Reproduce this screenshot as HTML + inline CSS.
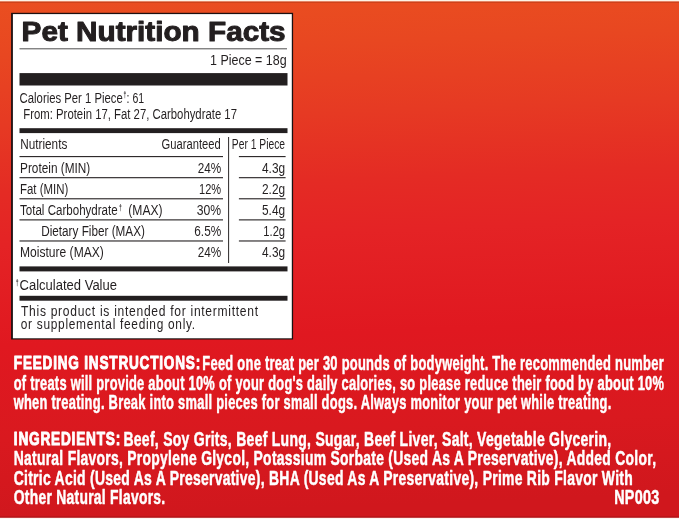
<!DOCTYPE html>
<html lang="en"><head><meta charset="utf-8"><title>Pet Nutrition Facts</title>
<style>
html,body{margin:0;padding:0;background:#d81b21;}
body{width:679px;height:519px;overflow:hidden;}
svg{display:block;font-family:"Liberation Sans", Arial, Helvetica, sans-serif;}
</style></head><body>
<svg width="679" height="519" viewBox="0 0 679 519">
<defs>
<linearGradient id="bg" gradientUnits="userSpaceOnUse" x1="0" y1="-8" x2="20" y2="519">
<stop offset="0" stop-color="#ea5020"/>
<stop offset="0.12" stop-color="#e84721"/>
<stop offset="0.25" stop-color="#e63a23"/>
<stop offset="0.38" stop-color="#e42b24"/>
<stop offset="0.48" stop-color="#e42325"/>
<stop offset="0.67" stop-color="#e01820"/>
<stop offset="0.85" stop-color="#d9191f"/>
<stop offset="1" stop-color="#d0171d"/>
</linearGradient>
</defs>
<rect width="679" height="519" fill="url(#bg)"/>
<rect x="0" y="0" width="679" height="1.6" fill="#fdf3e6"/>
<rect x="0" y="1.6" width="679" height="1.2" fill="#c8401a"/>
<rect x="0" y="516.4" width="679" height="1.5" fill="#b01318"/>
<rect x="0" y="517.8" width="679" height="1.2" fill="#fff4f2"/>
<rect x="11.1" y="12.8" width="282" height="326.7" fill="#1c1011"/>
<rect x="12.9" y="14.1" width="278.9" height="324.2" fill="#fff"/>
<text x="21.6" y="40.9" font-size="27.0" font-weight="bold" text-anchor="start" fill="#231f20" textLength="264.0" lengthAdjust="spacingAndGlyphs" stroke="#231f20" stroke-width="1.0" stroke-linejoin="round">Pet Nutrition Facts</text>
<rect x="19.5" y="48.1" width="267.5" height="1.3" fill="#777"/>
<text x="210" y="64.7" font-size="15.3" font-weight="normal" text-anchor="start" fill="#231f20" textLength="76.6" lengthAdjust="spacingAndGlyphs">1 Piece = 18g</text>
<rect x="19.5" y="73.1" width="268" height="12.4" fill="#231f20"/>
<text x="19.6" y="102.8" font-size="15.3" font-weight="normal" text-anchor="start" fill="#231f20" textLength="103.2" lengthAdjust="spacingAndGlyphs">Calories Per 1 Piece</text>
<text x="123.5" y="98.0" font-size="8.6" font-weight="bold" text-anchor="start" fill="#231f20" textLength="2.8" lengthAdjust="spacingAndGlyphs">†</text>
<text x="126.6" y="102.8" font-size="15.3" font-weight="normal" text-anchor="start" fill="#231f20" textLength="17.6" lengthAdjust="spacingAndGlyphs">: 61</text>
<text x="23.3" y="119.1" font-size="15.3" font-weight="normal" text-anchor="start" fill="#231f20" textLength="213.7" lengthAdjust="spacingAndGlyphs">From: Protein 17, Fat 27, Carbohydrate 17</text>
<rect x="19.5" y="128.2" width="268" height="4.9" fill="#231f20"/>
<text x="20.3" y="148.8" font-size="15.3" font-weight="normal" text-anchor="start" fill="#231f20" textLength="47" lengthAdjust="spacingAndGlyphs">Nutrients</text>
<text x="161.6" y="148.8" font-size="15.3" font-weight="normal" text-anchor="start" fill="#231f20" textLength="59.2" lengthAdjust="spacingAndGlyphs">Guaranteed</text>
<text x="231.8" y="148.8" font-size="15.3" font-weight="normal" text-anchor="start" fill="#231f20" textLength="53.3" lengthAdjust="spacingAndGlyphs">Per 1 Piece</text>
<rect x="228.1" y="137" width="1" height="126" fill="#2a2627"/>
<rect x="19.5" y="156.0" width="203.5" height="1.15" fill="#2e2a2b"/>
<rect x="238.9" y="156.0" width="46.7" height="1.15" fill="#2e2a2b"/>
<text x="20" y="172.7" font-size="15.3" font-weight="normal" text-anchor="start" fill="#231f20" textLength="70.3" lengthAdjust="spacingAndGlyphs">Protein (MIN)</text>
<text x="197.7" y="172.7" font-size="15.3" font-weight="normal" text-anchor="start" fill="#231f20" textLength="23.5" lengthAdjust="spacingAndGlyphs">24%</text>
<text x="262.0" y="172.7" font-size="15.3" font-weight="normal" text-anchor="start" fill="#231f20" textLength="23.1" lengthAdjust="spacingAndGlyphs">4.3g</text>
<rect x="19.5" y="177.1" width="203.5" height="1.15" fill="#2e2a2b"/>
<rect x="238.9" y="177.1" width="46.7" height="1.15" fill="#2e2a2b"/>
<text x="20" y="193.79999999999998" font-size="15.3" font-weight="normal" text-anchor="start" fill="#231f20" textLength="48.2" lengthAdjust="spacingAndGlyphs">Fat (MIN)</text>
<text x="199.1" y="193.79999999999998" font-size="15.3" font-weight="normal" text-anchor="start" fill="#231f20" textLength="22.1" lengthAdjust="spacingAndGlyphs">12%</text>
<text x="262.0" y="193.79999999999998" font-size="15.3" font-weight="normal" text-anchor="start" fill="#231f20" textLength="23.1" lengthAdjust="spacingAndGlyphs">2.2g</text>
<rect x="19.5" y="198.20000000000002" width="203.5" height="1.15" fill="#2e2a2b"/>
<rect x="238.9" y="198.20000000000002" width="46.7" height="1.15" fill="#2e2a2b"/>
<text x="20" y="214.9" font-size="15.3" font-weight="normal" text-anchor="start" fill="#231f20" textLength="97.7" lengthAdjust="spacingAndGlyphs">Total Carbohydrate</text>
<text x="196.79999999999998" y="214.9" font-size="15.3" font-weight="normal" text-anchor="start" fill="#231f20" textLength="24.4" lengthAdjust="spacingAndGlyphs">30%</text>
<text x="262.0" y="214.9" font-size="15.3" font-weight="normal" text-anchor="start" fill="#231f20" textLength="23.1" lengthAdjust="spacingAndGlyphs">5.4g</text>
<text x="119.0" y="211.1" font-size="8.6" font-weight="bold" text-anchor="start" fill="#231f20" textLength="2.8" lengthAdjust="spacingAndGlyphs">†</text>
<text x="128.3" y="214.9" font-size="15.3" font-weight="normal" text-anchor="start" fill="#231f20" textLength="34.3" lengthAdjust="spacingAndGlyphs">(MAX)</text>
<rect x="19.5" y="219.3" width="203.5" height="1.15" fill="#2e2a2b"/>
<rect x="238.9" y="219.3" width="46.7" height="1.15" fill="#2e2a2b"/>
<text x="41.2" y="236.0" font-size="15.3" font-weight="normal" text-anchor="start" fill="#231f20" textLength="103.7" lengthAdjust="spacingAndGlyphs">Dietary Fiber (MAX)</text>
<text x="194.29999999999998" y="236.0" font-size="15.3" font-weight="normal" text-anchor="start" fill="#231f20" textLength="26.9" lengthAdjust="spacingAndGlyphs">6.5%</text>
<text x="263.3" y="236.0" font-size="15.3" font-weight="normal" text-anchor="start" fill="#231f20" textLength="21.8" lengthAdjust="spacingAndGlyphs">1.2g</text>
<rect x="19.5" y="240.4" width="203.5" height="1.15" fill="#2e2a2b"/>
<rect x="238.9" y="240.4" width="46.7" height="1.15" fill="#2e2a2b"/>
<text x="20" y="257.1" font-size="15.3" font-weight="normal" text-anchor="start" fill="#231f20" textLength="83.8" lengthAdjust="spacingAndGlyphs">Moisture (MAX)</text>
<text x="197.7" y="257.1" font-size="15.3" font-weight="normal" text-anchor="start" fill="#231f20" textLength="23.5" lengthAdjust="spacingAndGlyphs">24%</text>
<text x="262.0" y="257.1" font-size="15.3" font-weight="normal" text-anchor="start" fill="#231f20" textLength="23.1" lengthAdjust="spacingAndGlyphs">4.3g</text>
<rect x="19.5" y="266.4" width="268" height="5.0" fill="#231f20"/>
<text x="15.8" y="286.0" font-size="8.6" font-weight="bold" text-anchor="start" fill="#231f20" textLength="2.8" lengthAdjust="spacingAndGlyphs">†</text>
<text x="19.6" y="289.9" font-size="15.3" font-weight="normal" text-anchor="start" fill="#231f20" textLength="97.4" lengthAdjust="spacingAndGlyphs">Calculated Value</text>
<rect x="19.5" y="295.8" width="268" height="4.9" fill="#231f20"/>
<text x="21" y="316.1" font-size="15.3" font-weight="normal" text-anchor="start" fill="#231f20" textLength="237.7" lengthAdjust="spacingAndGlyphs" letter-spacing="0.9">This product is intended for intermittent</text>
<text x="20.8" y="328.6" font-size="15.3" font-weight="normal" text-anchor="start" fill="#231f20" textLength="175" lengthAdjust="spacingAndGlyphs" letter-spacing="0.9">or supplemental feeding only.</text>
<text x="13.8" y="369.3" font-size="18.8" font-weight="bold" text-anchor="start" fill="#fff" textLength="187.2" lengthAdjust="spacingAndGlyphs" stroke="#fff" stroke-width="1.0" stroke-linejoin="round" letter-spacing="1.1">FEEDING INSTRUCTIONS:</text>
<text x="202.3" y="370.4" font-size="19.8" font-weight="bold" text-anchor="start" fill="#fff" textLength="461.7" lengthAdjust="spacingAndGlyphs" stroke="#fff" stroke-width="0.5" stroke-linejoin="round" letter-spacing="0.4">Feed one treat per 30 pounds of bodyweight. The recommended number</text>
<text x="13.7" y="389.7" font-size="19.8" font-weight="bold" text-anchor="start" fill="#fff" textLength="650.5" lengthAdjust="spacingAndGlyphs" stroke="#fff" stroke-width="0.5" stroke-linejoin="round" letter-spacing="0.4">of treats will provide about 10% of your dog's daily calories, so please reduce their food by about 10%</text>
<text x="13.7" y="409.1" font-size="19.8" font-weight="bold" text-anchor="start" fill="#fff" textLength="597.8" lengthAdjust="spacingAndGlyphs" stroke="#fff" stroke-width="0.5" stroke-linejoin="round" letter-spacing="0.4">when treating. Break into small pieces for small dogs. Always monitor your pet while treating.</text>
<text x="13.8" y="444.9" font-size="18.8" font-weight="bold" text-anchor="start" fill="#fff" textLength="107.2" lengthAdjust="spacingAndGlyphs" stroke="#fff" stroke-width="1.0" stroke-linejoin="round" letter-spacing="1.1">INGREDIENTS:</text>
<text x="123.4" y="446.0" font-size="19.8" font-weight="bold" text-anchor="start" fill="#fff" textLength="488.1" lengthAdjust="spacingAndGlyphs" stroke="#fff" stroke-width="0.5" stroke-linejoin="round" letter-spacing="0.4">Beef, Soy Grits, Beef Lung, Sugar, Beef Liver, Salt, Vegetable Glycerin,</text>
<text x="13.7" y="465.4" font-size="19.8" font-weight="bold" text-anchor="start" fill="#fff" textLength="642.6" lengthAdjust="spacingAndGlyphs" stroke="#fff" stroke-width="0.5" stroke-linejoin="round" letter-spacing="0.4">Natural Flavors, Propylene Glycol, Potassium Sorbate (Used As A Preservative), Added Color,</text>
<text x="13.7" y="484.8" font-size="19.8" font-weight="bold" text-anchor="start" fill="#fff" textLength="619.3" lengthAdjust="spacingAndGlyphs" stroke="#fff" stroke-width="0.5" stroke-linejoin="round" letter-spacing="0.4">Citric Acid (Used As A Preservative), BHA (Used As A Preservative), Prime Rib Flavor With</text>
<text x="13.7" y="504.3" font-size="19.8" font-weight="bold" text-anchor="start" fill="#fff" textLength="151.8" lengthAdjust="spacingAndGlyphs" stroke="#fff" stroke-width="0.5" stroke-linejoin="round" letter-spacing="0.4">Other Natural Flavors.</text>
<text x="614.2" y="504.3" font-size="19.8" font-weight="bold" text-anchor="start" fill="#fff" textLength="45.3" lengthAdjust="spacingAndGlyphs" stroke="#fff" stroke-width="0.5" stroke-linejoin="round" letter-spacing="0.4">NP003</text>
</svg>
</body></html>
